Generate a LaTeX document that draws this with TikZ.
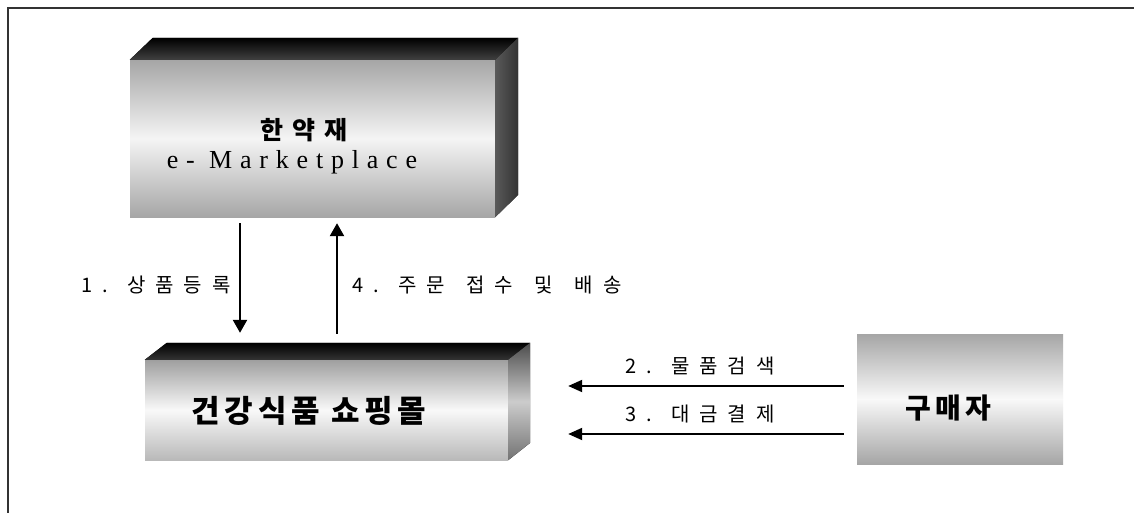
\documentclass[tikz,border=0pt]{standalone}
\usepackage{fontspec}
\usetikzlibrary{arrows.meta,calc}
\newfontfamily\krsp[LetterSpace=50]{Noto Sans CJK KR}
\newfontfamily\krb{Noto Sans CJK KR}
\newfontfamily\emk[LetterSpace=30]{Liberation Serif}
\begin{document}
\begin{tikzpicture}[x=1pt,y=-1pt,
  front/.style={draw=none, inner sep=0pt},
  varr/.style={line width=2.4pt, -{Triangle[length=13pt,width=14pt]}},
  harr/.style={line width=2pt, -{Triangle[length=14pt,width=12pt]}},
  lbl/.style={font=\krsp\fontsize{20}{22}\selectfont, inner sep=0pt},
  big/.style={font=\krb\bfseries\fontsize{#1}{#1}\selectfont\addfontfeatures{LetterSpace=15}, inner sep=0pt}]
\useasboundingbox (0,0) rectangle (1134,513);
\fill[white] (0,0) rectangle (1134,513);
% frame
\draw[line width=1.3pt, black!80] (8,513) -- (8,8) -- (1134,8);
% top box
\node[front, minimum width=365pt, minimum height=157pt,
  top color=gray!70, bottom color=gray!70, middle color=gray!8] (mk) at (312.5,138.5) {};
\fill[top color=black, bottom color=black!75] (mk.north west) -- ++(23,-22) -- ($(mk.north east)+(23,-22)$) -- (mk.north east) -- cycle;
\fill[left color=black!65, right color=black!80] (mk.north east) -- ++(23,-22) -- ++(0,157) -- (mk.south east) -- cycle;
\node[font=\krb\bfseries\fontsize{25}{25}\selectfont\addfontfeatures{LetterSpace=35}, inner sep=0pt] (mkt) at (304,130) {한약재};
\node[font=\emk\fontsize{26}{26}\selectfont, inner sep=0pt] (mke) at (292,162) {e- Marketplace};
% bottom box
\node[front, minimum width=363pt, minimum height=100pt,
  top color=gray!75, bottom color=gray!55, middle color=gray!5] (shop) at (326.5,410) {};
\fill[top color=black, bottom color=black!80] (shop.north west) -- ++(22,-17) -- ($(shop.north east)+(22,-17)$) -- (shop.north east) -- cycle;
\fill[top color=black!70, bottom color=black!55, middle color=gray!40] (shop.north east) -- ++(22,-17) -- ++(0,100) -- (shop.south east) -- cycle;
\node[big=31] (shopt) at (309,411) {건강식품 쇼핑몰};
% buyer box
\node[front, minimum width=206pt, minimum height=130pt,
  top color=gray!70, bottom color=gray!70, middle color=gray!5] (buyer) at (960,399) {};
\node[big=28] (buyert) at (948,408) {구매자};
% labels
\node[lbl, anchor=east] (l1) at (231,285) {1. 상품등록};
\node[lbl, anchor=west] (l4) at (352,285) {4. 주문\hspace{7pt} 접수\hspace{7pt} 및\hspace{7pt} 배송};
\node[lbl] (l2) at (700,366) {2. 물품검색};
\node[lbl] (l3) at (700,414) {3. 대금결제};
% arrows
\draw[varr] ($(mk.south -| 240,0)+(0,6)$) -- ($(shop.north -| 240,0)+(0,-27)$);
\draw[varr] ($(shop.north -| 337,0)+(0,-26)$) -- ($(mk.south -| 337,0)+(0,6)$);
\draw[harr] ($(buyer.west |- 0,386)+(-13,0)$) -- ($(shop.east |- 0,386)+(60,0)$);
\draw[harr] ($(buyer.west |- 0,434)+(-13,0)$) -- ($(shop.east |- 0,434)+(60,0)$);
\end{tikzpicture}
\end{document}
